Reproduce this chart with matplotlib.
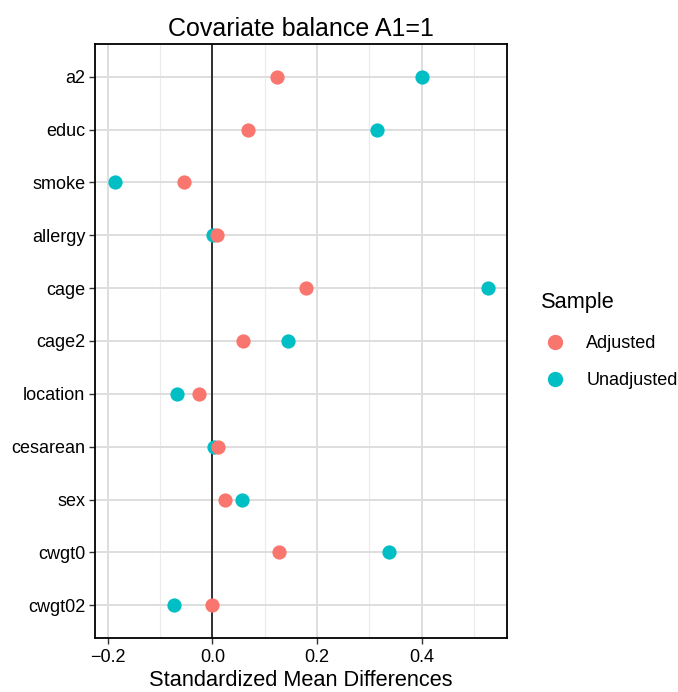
import matplotlib
matplotlib.use("Agg")
import matplotlib.pyplot as plt
from matplotlib.lines import Line2D

covariates = ["a2", "educ", "smoke", "allergy", "cage", "cage2", "location",
              "cesarean", "sex", "cwgt0", "cwgt02"]
adjusted = [0.124, 0.069, -0.054, 0.008, 0.180, 0.059, -0.025, 0.010, 0.024, 0.127, -0.001]
unadjusted = [0.401, 0.315, -0.187, 0.001, 0.528, 0.144, -0.067, 0.004, 0.057, 0.338, -0.073]
xticks = [-0.2, 0.0, 0.2, 0.4]
xminor = [-0.1, 0.1, 0.3, 0.5]

col_adj = "#F8766D"
col_unadj = "#00BFC4"

plt.rcParams['font.family'] = ['Liberation Sans', 'DejaVu Sans']

fig = plt.figure(figsize=(6.78, 6.92), dpi=100)
ax = fig.add_axes([95/678, 54/692, 412/678, 594/692])

n = len(covariates)
ypos = list(range(n - 1, -1, -1))

ax.set_xlim(-0.2245, 0.5635)
ax.set_ylim(-0.62, n - 1 + 0.62)

for v in xminor:
    ax.axvline(v, color="#EBEBEB", lw=0.8, zorder=0)
for v in xticks:
    ax.axvline(v, color="#DEDEDE", lw=1.4, zorder=0)
for y in ypos:
    ax.axhline(y, color="#DEDEDE", lw=1.4, zorder=0)
ax.axvline(0, color="#222222", lw=1.3, zorder=1)

ax.scatter(unadjusted, ypos, s=105, color=col_unadj, zorder=3, linewidths=0)
ax.scatter(adjusted, ypos, s=105, color=col_adj, zorder=4, linewidths=0)

ax.set_xticks(xticks)
ax.set_xticklabels(["\u22120.2", "0.0", "0.2", "0.4"])
ax.set_yticks(ypos)
ax.set_yticklabels(covariates)
ax.tick_params(axis='both', labelsize=13, colors="#333333", labelcolor="black",
               length=4, width=1)
ax.tick_params(axis='x', pad=4)
ax.tick_params(axis='y', pad=3)
for s in ax.spines.values():
    s.set_linewidth(1.3)
    s.set_color("black")

ax.set_xlabel("Standardized Mean Differences", fontsize=15.7, labelpad=3)
ax.set_title("Covariate balance A1=1", fontsize=18, pad=6)

handles = [Line2D([], [], marker='o', ls='', color=col_adj, markersize=10),
           Line2D([], [], marker='o', ls='', color=col_unadj, markersize=10)]
leg = fig.legend(handles, ["Adjusted", "Unadjusted"], title="Sample",
                 loc="upper left", bbox_to_anchor=(532/678, 1 - 283/692),
                 frameon=False, fontsize=13, title_fontsize=15.7,
                 handletextpad=0.9, labelspacing=1.1, borderpad=0,
                 handlelength=1.6)
leg._legend_box.align = "left"
leg._legend_box.sep = 16

fig.savefig("out.png", dpi=100)
